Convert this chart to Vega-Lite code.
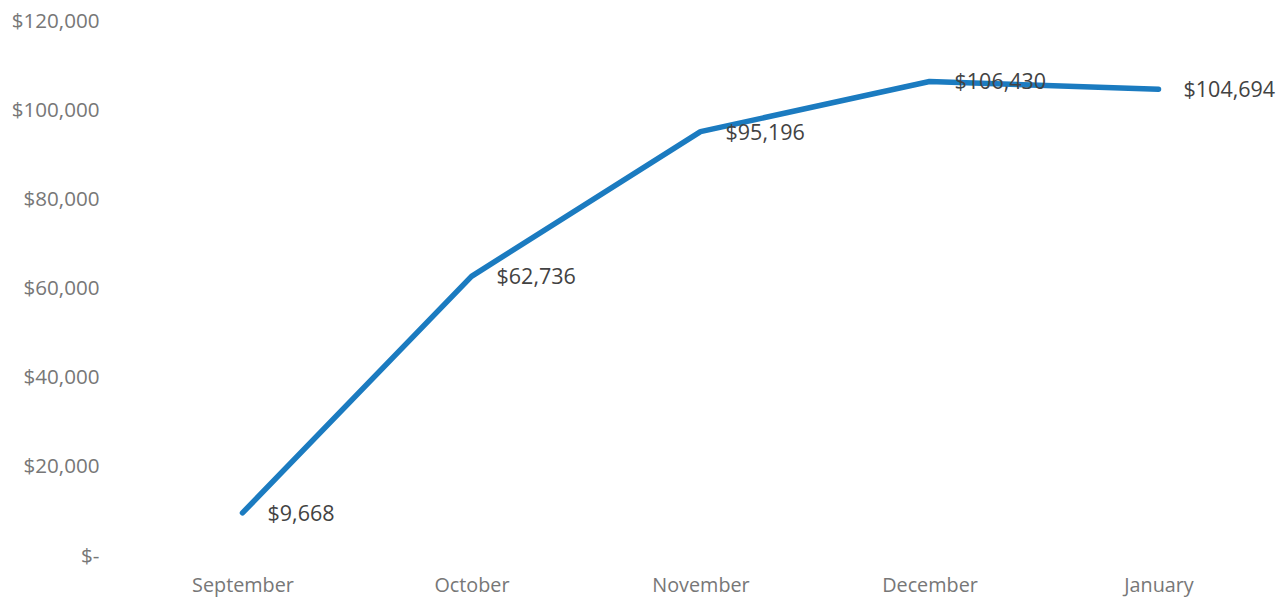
{
  "$schema": "https://vega.github.io/schema/vega-lite/v6.json",
  "autosize": "none",
  "width": 1145,
  "height": 535,
  "padding": {"left": 128, "top": 21, "right": 9, "bottom": 41},
  "background": "white",
  "config": {"view": {"stroke": null}, "font": "Open Sans"},
  "data": {"values": [
    {"month": "September", "value": 9668},
    {"month": "October", "value": 62736},
    {"month": "November", "value": 95196},
    {"month": "December", "value": 106430},
    {"month": "January", "value": 104694}
  ]},
  "encoding": {
    "x": {"field": "month", "type": "ordinal", "sort": null, "scale": {"type": "point", "padding": 0.5},
      "axis": {"title": null, "labelAngle": 0, "domain": false, "ticks": false, "grid": false, "labelFont": "Open Sans", "labelFontSize": 19.8, "labelColor": "#777777", "labelPadding": 19}},
    "y": {"field": "value", "type": "quantitative", "scale": {"domain": [0, 120000], "nice": false},
      "axis": {"title": null, "values": [0, 20000, 40000, 60000, 80000, 100000, 120000], "domain": false, "ticks": false, "grid": false, "labelFont": "Open Sans", "labelFontSize": 20.6, "labelColor": "#777777", "labelPadding": 29,
        "labelExpr": "datum.value == 0 ? '$-' : '$' + format(datum.value, ',.0f')"}}
  },
  "layer": [
    {"mark": {"type": "line", "color": "#1b7bc0", "strokeWidth": 5.5, "strokeCap": "round", "strokeJoin": "round"}},
    {"mark": {"type": "text", "align": "left", "baseline": "middle", "dx": 25, "dy": 2, "font": "Open Sans", "fontSize": 21.5, "color": "#424242"},
      "encoding": {"text": {"field": "value", "type": "quantitative", "format": "$,.0f"}}}
  ]
}
